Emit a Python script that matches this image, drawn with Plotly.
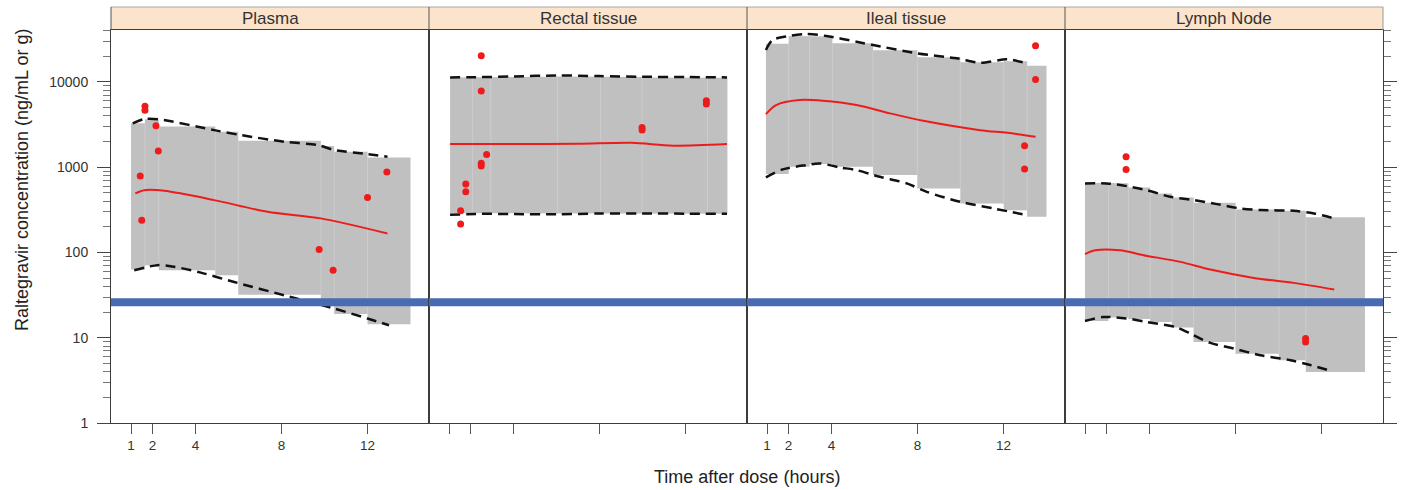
import plotly.graph_objects as go
from plotly.subplots import make_subplots

# ---------------- data ----------------
panel_names = ["Plasma", "Rectal tissue", "Ileal tissue", "Lymph Node"]

x_ticks = [1, 2, 4, 8, 12]
y_major = [1, 10, 100, 1000, 10000]
y_major_text = ["1", "10", "100", "1000", "10000"]

threshold_conc = 26

# Plasma
plasma_bin_edges = [1.0, 1.65, 2.29, 4.92, 5.99, 9.83, 10.45, 12.0, 14.0]
plasma_band_hi = [3270, 3650, 3000, 2600, 2040, 1770, 1520, 1300]
plasma_band_lo = [63, 71, 62, 54, 32, 26, 19, 14.4]
plasma_p95_t = [1.08, 1.62, 2.31, 4.87, 6.11, 8.12, 9.67, 10.45, 12.0, 12.93]
plasma_p95 = [3270, 3670, 3640, 2720, 2380, 1990, 1820, 1590, 1425, 1325]
plasma_med_t = [1.2, 1.62, 2.55, 4.87, 7.35, 9.83, 12.93]
plasma_med = [492, 538, 528, 411, 300, 251, 167]
plasma_p05_t = [1.15, 2.24, 3.0, 4.25, 5.8, 8.12, 10.45, 12.0, 13.0]
plasma_p05 = [62, 71, 68, 58, 45, 31.5, 22, 16.8, 14.0]
plasma_obs_t = [1.65, 1.65, 2.16, 2.27, 1.43, 1.5, 12.9, 12.0, 9.75, 10.4]
plasma_obs = [5200, 4650, 3060, 1545, 786, 239, 877, 442, 108, 62]

# Rectal tissue
rectal_bin_edges = [1.05, 2.09, 2.94, 6.04, 8.05, 9.98, 13.02, 13.95]
rectal_band_hi = [11300, 11400, 11500, 11600, 11400, 11300, 11200]
rectal_band_lo = [288, 285, 285, 285, 287, 285, 285]
rectal_p95_t = [1.05, 2.5, 4.0, 6.0, 8.0, 10.0, 12.0, 13.93]
rectal_p95 = [11300, 11400, 11600, 11900, 11700, 11500, 11400, 11300]
rectal_med_t = [1.05, 4.0, 7.0, 9.5, 11.4, 13.93]
rectal_med = [1870, 1870, 1880, 1930, 1790, 1870]
rectal_p05_t = [1.05, 2.5, 4.0, 6.0, 8.0, 10.0, 12.0, 13.93]
rectal_p05 = [276, 284, 282, 280, 286, 287, 285, 284]
rectal_obs_t = [2.5, 2.5, 2.75, 2.5, 2.5, 1.78, 1.78, 1.54, 1.54, 9.98, 9.98, 12.97, 12.97]
rectal_obs = [20300, 7820, 1410, 1110, 1030, 634, 514, 308, 215, 2930, 2730, 6010, 5510]

# Ileal tissue
ileal_bin_edges = [0.95, 2.01, 2.98, 4.04, 5.93, 7.99, 9.99, 12.01, 13.1, 14.0]
ileal_band_hi = [28000, 34500, 34000, 28500, 23500, 19500, 17000, 17500, 15500]
ileal_band_lo = [830, 1010, 1087, 1010, 808, 564, 376, 313, 262]
ileal_p95_t = [0.95, 1.26, 2.04, 2.82, 3.76, 5.16, 5.93, 7.96, 9.83, 10.92, 12.17, 13.1]
ileal_p95 = [23700, 31000, 34600, 36500, 34600, 29600, 27100, 21700, 18900, 16800, 18400, 16500]
ileal_med_t = [0.95, 1.42, 2.51, 3.6, 5.16, 6.72, 8.27, 10.92, 12.17, 13.49]
ileal_med = [4200, 5360, 6130, 6010, 5360, 4280, 3500, 2720, 2530, 2280]
ileal_p05_t = [0.95, 1.73, 2.82, 3.44, 4.38, 5.16, 6.25, 7.5, 8.43, 10.0, 11.54, 13.1]
ileal_p05 = [759, 942, 1058, 1108, 995, 925, 771, 646, 514, 392, 328, 274]
ileal_obs_t = [13.49, 13.49, 12.98, 12.98]
ileal_obs = [26600, 10700, 1780, 950]

# Lymph Node
lymph_bin_edges = [1.0, 2.09, 3.02, 4.03, 5.04, 6.05, 8.0, 10.02, 11.27, 14.02]
lymph_band_hi = [656, 650, 579, 492, 442, 382, 320, 308, 258]
lymph_band_lo = [15.7, 17.3, 16.6, 15.3, 13.2, 8.9, 6.5, 5.45, 3.97]
lymph_p95_t = [1.0, 2.01, 2.94, 3.88, 4.96, 6.05, 7.14, 8.23, 9.16, 10.72, 11.65, 12.59]
lymph_p95 = [646, 646, 600, 538, 450, 411, 369, 328, 314, 308, 287, 251]
lymph_med_t = [1.0, 1.47, 2.63, 3.72, 5.43, 6.83, 8.85, 10.72, 12.59]
lymph_med = [95.5, 106, 106, 93, 77.6, 63, 50.3, 44, 36.8]
lymph_p05_t = [1.0, 1.85, 2.94, 3.88, 5.28, 6.05, 6.83, 7.92, 9.16, 10.56, 11.34, 12.35]
lymph_p05 = [15.7, 17.5, 16.8, 15.3, 13.2, 10.7, 8.7, 7.47, 6.23, 5.45, 4.89, 4.15]
lymph_obs_t = [2.91, 2.91, 11.26, 11.26]
lymph_obs = [1325, 942, 9.8, 8.9]

panels = [
    (plasma_bin_edges, plasma_band_hi, plasma_band_lo, plasma_p95_t, plasma_p95,
     plasma_med_t, plasma_med, plasma_p05_t, plasma_p05, plasma_obs_t, plasma_obs),
    (rectal_bin_edges, rectal_band_hi, rectal_band_lo, rectal_p95_t, rectal_p95,
     rectal_med_t, rectal_med, rectal_p05_t, rectal_p05, rectal_obs_t, rectal_obs),
    (ileal_bin_edges, ileal_band_hi, ileal_band_lo, ileal_p95_t, ileal_p95,
     ileal_med_t, ileal_med, ileal_p05_t, ileal_p05, ileal_obs_t, ileal_obs),
    (lymph_bin_edges, lymph_band_hi, lymph_band_lo, lymph_p95_t, lymph_p95,
     lymph_med_t, lymph_med, lymph_p05_t, lymph_p05, lymph_obs_t, lymph_obs),
]

# ---------------- styling ----------------
FONT = "Liberation Sans, Arial, Helvetica, sans-serif"
BAND = "#C0C0C0"
BIN_LINE = "#CCCCCC"
RED = "#EC1C1C"
BLUE = "#4A6BB2"
FRAME = "#3c3c3c"
STRIP_BG = "#FCE3CC"

X_RANGE = [0.07, 14.86]
Y_RANGE = [0, 4.609]

W, H = 1401, 490
M_L, M_R, M_T, M_B = 111, 18, 30, 67
PLOT_H = H - M_T - M_B
PLOT_W = W - M_L - M_R

fig = make_subplots(rows=1, cols=4, horizontal_spacing=0)

for i, (edges, hi, lo, p95_t, p95, med_t, med, p05_t, p05, obs_t, obs) in enumerate(panels):
    col = i + 1

    # stepped prediction band
    bx, by = [], []
    for k in range(len(hi)):
        bx += [edges[k], edges[k + 1]]
        by += [hi[k], hi[k]]
    for k in reversed(range(len(lo))):
        bx += [edges[k + 1], edges[k]]
        by += [lo[k], lo[k]]
    fig.add_trace(go.Scatter(x=bx, y=by, mode="lines", fill="toself",
                             fillcolor=BAND, line=dict(width=0), hoverinfo="skip"),
                  row=1, col=col)

    # faint dividers between bins
    dx, dy = [], []
    for k in range(1, len(hi)):
        dx += [edges[k], edges[k], None]
        dy += [max(lo[k - 1], lo[k]), min(hi[k - 1], hi[k]), None]
    fig.add_trace(go.Scatter(x=dx, y=dy, mode="lines",
                             line=dict(color=BIN_LINE, width=1), hoverinfo="skip"),
                  row=1, col=col)

    # 5th / 95th percentile curves
    for tt, vv in ((p95_t, p95), (p05_t, p05)):
        fig.add_trace(go.Scatter(x=tt, y=vv, mode="lines",
                                 line=dict(color="#111111", width=2.5, dash="10px,6px",
                                           shape="spline", smoothing=0.8)),
                      row=1, col=col)

    # median curve
    fig.add_trace(go.Scatter(x=med_t, y=med, mode="lines",
                             line=dict(color=RED, width=2, shape="spline", smoothing=0.8)),
                  row=1, col=col)

    # reference concentration
    fig.add_trace(go.Scatter(x=X_RANGE, y=[threshold_conc, threshold_conc], mode="lines",
                             line=dict(color=BLUE, width=8)),
                  row=1, col=col)

    # observed concentrations
    fig.add_trace(go.Scatter(x=obs_t, y=obs, mode="markers",
                             marker=dict(color=RED, size=7, line=dict(width=0))),
                  row=1, col=col)

minor_vals = [m * 10 ** k for k in range(5) for m in range(2, 10) if m * 10 ** k <= 40000]

for i in range(4):
    col = i + 1
    fig.update_xaxes(range=X_RANGE, tickvals=x_ticks, ticks="outside", ticklen=10,
                     tickcolor="#555555", tickwidth=1, showgrid=False, zeroline=False,
                     showline=True, linecolor=FRAME, linewidth=1, mirror=True,
                     automargin=False, showticklabels=(i in (0, 2)),
                     tickfont=dict(family=FONT, size=13.5, color="#333333"),
                     row=1, col=col)
    yopts = dict(type="log", range=Y_RANGE, showgrid=False, zeroline=False,
                 showline=True, linecolor=FRAME, linewidth=1, mirror=True,
                 automargin=False)
    if i == 0:
        yopts.update(tickvals=y_major, ticktext=y_major_text, ticks="outside", ticklen=13,
                     tickcolor="#444444", tickwidth=1, ticklabelstandoff=6,
                     tickfont=dict(family=FONT, size=14, color="#333333"),
                     minor=dict(tickmode="array", tickvals=minor_vals, ticks="outside",
                                ticklen=7, tickcolor="#777777", tickwidth=1, showgrid=False))
    elif i == 3:
        yopts.update(side="right", tickvals=y_major, ticks="outside", ticklen=13,
                     tickcolor="#444444", tickwidth=1, showticklabels=False,
                     minor=dict(tickmode="array", tickvals=minor_vals, ticks="outside",
                                ticklen=7, tickcolor="#777777", tickwidth=1, showgrid=False))
    else:
        yopts.update(ticks="", showticklabels=False)
    fig.update_yaxes(**yopts, row=1, col=col)

# strips above each panel
strip_top = 1 + 23 / PLOT_H
shapes = []
annotations = []
for i, name in enumerate(panel_names):
    x0, x1 = i / 4, (i + 1) / 4
    shapes.append(dict(type="rect", xref="paper", yref="paper", x0=x0, x1=x1,
                       y0=1, y1=strip_top, fillcolor=STRIP_BG, line=dict(width=0),
                       layer="below"))
    annotations.append(dict(text=name, xref="paper", yref="paper", x=(x0 + x1) / 2,
                            y=1 + 11.5 / PLOT_H, xanchor="center", yanchor="middle",
                            showarrow=False,
                            font=dict(family=FONT, size=17, color="#333333")))
shapes.append(dict(type="line", xref="paper", yref="paper", x0=0, x1=1,
                   y0=strip_top, y1=strip_top, line=dict(color="#A8A8A8", width=1)))
for i in range(5):
    shapes.append(dict(type="line", xref="paper", yref="paper", x0=i / 4, x1=i / 4,
                       y0=1, y1=strip_top,
                       line=dict(color="#555555" if i < 4 else "#999999", width=1)))

# axis titles
annotations.append(dict(text="Time after dose (hours)", xref="paper", yref="paper",
                        x=0.5, y=(423 - 477) / PLOT_H, xanchor="center", yanchor="middle",
                        showarrow=False, font=dict(family=FONT, size=18, color="#222222")))
annotations.append(dict(text="Raltegravir concentration (ng/mL or g)", xref="paper",
                        yref="paper", x=(22 - M_L) / PLOT_W, y=(423 - 180) / PLOT_H,
                        xanchor="center", yanchor="middle", textangle=-90, showarrow=False,
                        font=dict(family=FONT, size=18, color="#222222")))

fig.update_layout(
    width=W, height=H, autosize=False,
    margin=dict(l=M_L, r=M_R, t=M_T, b=M_B, pad=0, autoexpand=False),
    paper_bgcolor="white", plot_bgcolor="white",
    showlegend=False,
    shapes=shapes, annotations=annotations,
    font=dict(family=FONT),
)

fig.write_html("out.html")
